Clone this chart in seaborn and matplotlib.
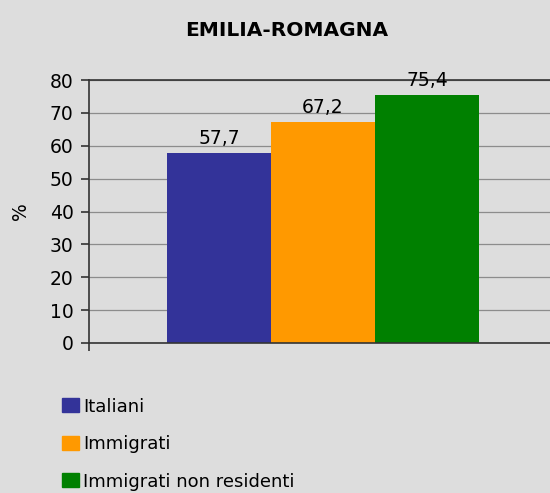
import pandas as pd
import matplotlib
matplotlib.use("Agg")
import matplotlib.pyplot as plt
import seaborn as sns

# dati
regione = "EMILIA-ROMAGNA"
gruppi = ["Italiani", "Immigrati", "Immigrati non residenti"]
valori = [57.7, 67.2, 75.4]
colori = ["#333399", "#ff9900", "#008000"]
etichette = ["57,7", "67,2", "75,4"]
yticks = [0, 10, 20, 30, 40, 50, 60, 70, 80]

df = pd.DataFrame({"regione": [regione] * 3, "gruppo": gruppi, "valore": valori})

sns.set_style("white")
plt.rcParams["font.family"] = ["DejaVu Sans"]
plt.rcParams["text.color"] = "black"
bg = "#dddddd"

fig = plt.figure(figsize=(5.5, 4.93), dpi=100, facecolor=bg)
ax = fig.add_axes([89 / 550, 1 - 343 / 493, 1 - 89 / 550, (343 - 80) / 493])
ax.set_facecolor(bg)

sns.barplot(data=df, x="regione", y="valore", hue="gruppo", palette=colori,
            saturation=1, width=0.8, linewidth=0, ax=ax, legend=False)

for cont, lab in zip(ax.containers, etichette):
    ax.bar_label(cont, labels=[lab], padding=4, fontsize=13.5, color="black")

ax.set_xlim(-0.6, 0.582)
ax.set_ylim(0, 80)
ax.set_yticks(yticks)
ax.set_yticklabels([str(t) for t in yticks], fontsize=13.5, color="black")
ax.set_xticks([-0.6])
ax.set_xticklabels([""])
ax.tick_params(axis="both", direction="out", length=6, width=1.2, color="#333333",
               pad=5, left=True, bottom=True)
ax.yaxis.grid(True, color="#8c8c8c", linewidth=0.9)
ax.set_axisbelow(True)
for s in ["left", "bottom", "top"]:
    ax.spines[s].set_color("#333333")
    ax.spines[s].set_linewidth(1.2)
ax.spines["right"].set_visible(False)
ax.set_xlabel("")
ax.set_ylabel("%", fontsize=13.5, color="black", labelpad=14)

fig.text(287 / 550, 1 - 30 / 493, regione, ha="center", va="center",
         fontsize=14.5, fontweight="bold", color="black")

handles = [plt.Rectangle((0, 0), 1, 1, color=c) for c in colori]
leg = fig.legend(handles, gruppi, loc="upper left", bbox_to_anchor=(49 / 550, 1 - 385 / 493),
                 frameon=False, fontsize=13, handlelength=0.95, handleheight=0.8,
                 handletextpad=0.25, labelspacing=1.08, borderaxespad=0.3)
for t in leg.get_texts():
    t.set_color("black")

fig.savefig("out.png", dpi=100, facecolor=bg)
